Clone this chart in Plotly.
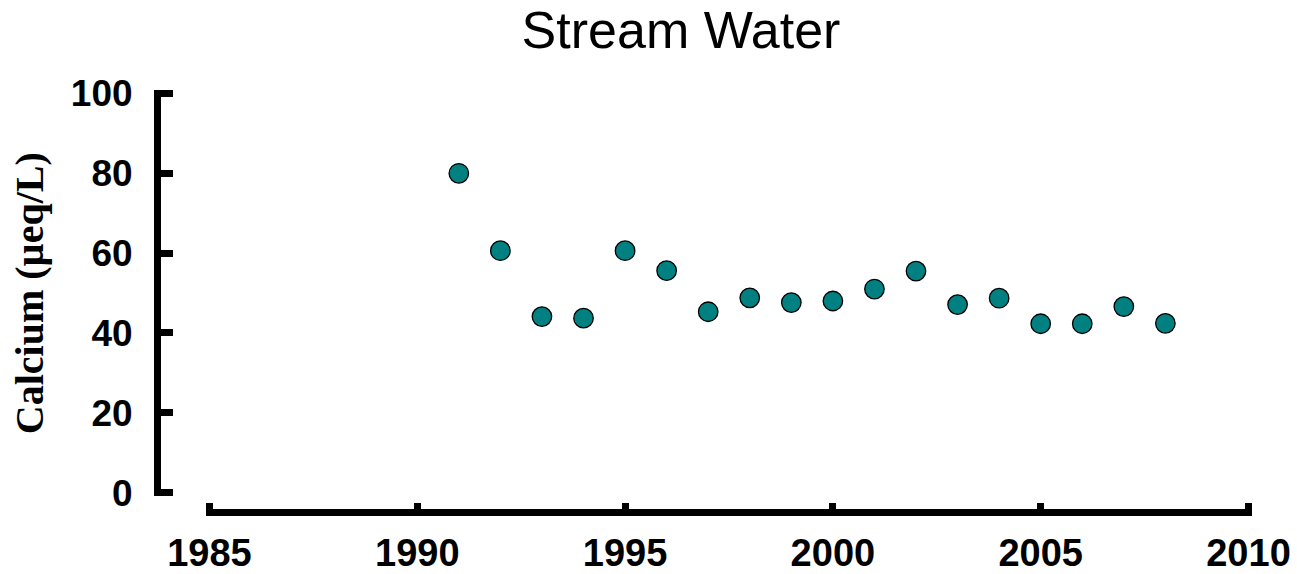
import plotly.graph_objects as go

# Annual stream-water calcium concentrations
years = [1991, 1992, 1993, 1994, 1995, 1996, 1997, 1998, 1999,
         2000, 2001, 2002, 2003, 2004, 2005, 2006, 2007, 2008]
calcium = [80.0, 60.6, 44.1, 43.7, 60.6, 55.6, 45.3, 48.8, 47.6,
           48.0, 51.0, 55.5, 47.1, 48.7, 42.3, 42.3, 46.6, 42.4]

x_ticks = [1985, 1990, 1995, 2000, 2005, 2010]
y_ticks = [0, 20, 40, 60, 80, 100]

W, H = 1297, 574

# pixel placement of the axes
X0_PX, X1_PX = 209, 1249      # 1985 and 2010
Y0_PX, Y100_PX = 493, 93      # 0 and 100
YLINE_PX = 157                # y-axis line centre
XLINE_PX = 513                # x-axis line centre
LW = 7

px_per_year = (X1_PX - X0_PX) / 25
px_per_unit = (Y0_PX - Y100_PX) / 100
x_pad = (LW / 2) / px_per_year
y_pad = (LW / 2) / px_per_unit

ML = YLINE_PX - 0.5
MB = H - (XLINE_PX - 0.5)
MR = W - (X1_PX + LW / 2)
MT = Y100_PX - LW / 2
plot_w = W - ML - MR
plot_h = H - MT - MB

fig = go.Figure()
fig.add_trace(go.Scatter(
    x=years, y=calcium, mode="markers",
    marker=dict(size=19.5, color="#008080",
                line=dict(color="black", width=1.3)),
    showlegend=False, cliponaxis=False,
))

axis_common = dict(
    showline=True, linecolor="black", linewidth=LW,
    ticks="inside", tickcolor="black", tickwidth=LW,
    showgrid=False, zeroline=False, anchor="free", position=0,
    automargin=False,
)

fig.update_layout(
    width=W, height=H,
    margin=dict(l=ML, r=MR, t=MT, b=MB, pad=0, autoexpand=False),
    paper_bgcolor="white", plot_bgcolor="white",
    xaxis=dict(range=[1985 - x_pad, 2010 + x_pad], tickvals=x_ticks,
               domain=[(X0_PX - LW / 2 - ML) / plot_w, 1], ticklen=6,
               ticklabelstandoff=4,
               tickfont=dict(family="Liberation Sans, Arial, sans-serif",
                             size=38, color="black", weight="bold"),
               **axis_common),
    yaxis=dict(range=[0 - y_pad, 100 + y_pad], tickvals=y_ticks,
               domain=[(H - MB - (Y0_PX + LW / 2)) / plot_h, 1], ticklen=12,
               ticklabelstandoff=14,
               tickfont=dict(family="Liberation Sans, Arial, sans-serif",
                             size=37, color="black", weight="bold"),
               **axis_common),
    title=dict(text="Stream Water", x=681 / W, xanchor="center",
               y=1 - 30 / H, yanchor="middle", yref="container",
               font=dict(family="Liberation Sans, Arial, sans-serif",
                         size=52, color="black")),
    annotations=[dict(
        text="Calcium (µeq/L)", textangle=-90,
        xref="paper", yref="paper",
        x=(28.5 - ML) / plot_w, y=1 - (293 - MT) / plot_h,
        xanchor="center", yanchor="middle", showarrow=False,
        font=dict(family="Liberation Serif, Times New Roman, serif",
                  size=40, color="black", weight="bold"),
    )],
)

fig.write_html("out.html")
